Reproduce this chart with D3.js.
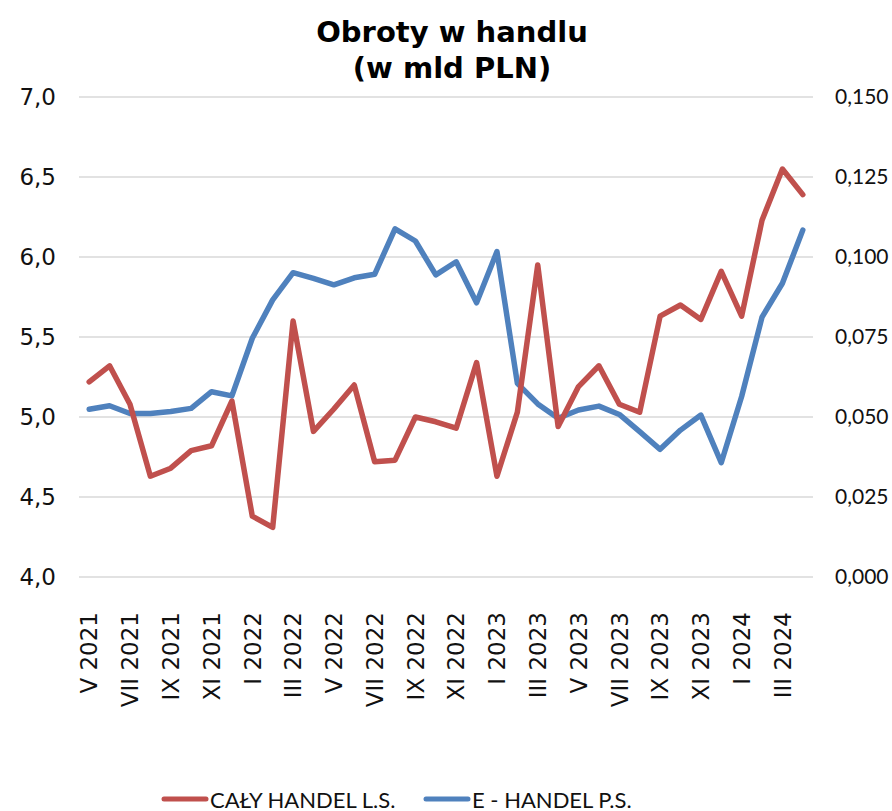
<!doctype html>
<html>
<head>
<meta charset="utf-8">
<script src="https://d3js.org/d3.v7.min.js"></script>
<style>
  body { margin: 0; background: #fff; }
  svg { display: block; }
</style>
</head>
<body>
<div id="chart"></div>
<script>
// months May 2021 .. April 2024
var months = ["V 2021","VI 2021","VII 2021","VIII 2021","IX 2021","X 2021","XI 2021","XII 2021",
  "I 2022","II 2022","III 2022","IV 2022","V 2022","VI 2022","VII 2022","VIII 2022","IX 2022","X 2022","XI 2022","XII 2022",
  "I 2023","II 2023","III 2023","IV 2023","V 2023","VI 2023","VII 2023","VIII 2023","IX 2023","X 2023","XI 2023","XII 2023",
  "I 2024","II 2024","III 2024","IV 2024"];

// CAŁY HANDEL (left axis, mld PLN)
var calyHandel = [5.22, 5.32, 5.08, 4.63, 4.68, 4.79, 4.82, 5.10, 4.38, 4.31,
  5.60, 4.91, 5.05, 5.20, 4.72, 4.73, 5.00, 4.97, 4.93, 5.34,
  4.63, 5.03, 5.95, 4.94, 5.19, 5.32, 5.08, 5.03, 5.63, 5.70,
  5.61, 5.91, 5.63, 6.23, 6.55, 6.39];

// E-HANDEL (right axis, mld PLN)
var eHandel = [0.0524, 0.0535, 0.0511, 0.0511, 0.0517, 0.0527, 0.0579, 0.0566, 0.0746, 0.0866,
  0.0951, 0.0933, 0.0913, 0.0935, 0.0946, 0.1088, 0.1050, 0.0944, 0.0985, 0.0857,
  0.1017, 0.0605, 0.0541, 0.0496, 0.0522, 0.0534, 0.0508, 0.0454, 0.0399, 0.0459,
  0.0506, 0.0357, 0.0564, 0.0812, 0.0918, 0.1084];

var leftTicks = [4.0, 4.5, 5.0, 5.5, 6.0, 6.5, 7.0];
var rightTicks = [0, 0.025, 0.05, 0.075, 0.1, 0.125, 0.15];

var W = 892, H = 811;
var plotL = 79, plotR = 813, plotT = 97, plotB = 577;
var red = "#C0504D", blue = "#4F81BD";

var svg = d3.select("#chart").append("svg").attr("width", W).attr("height", H);

var x = d3.scalePoint().domain(d3.range(months.length)).range([plotL, plotR]).padding(0.5);
var yL = d3.scaleLinear().domain([4, 7]).range([plotB, plotT]);
var yR = d3.scaleLinear().domain([0, 0.15]).range([plotB, plotT]);
var fmtL = function(d) { return d3.format(".1f")(d).replace(".", ","); };
var fmtR = function(d) { return d3.format(".3f")(d).replace(".", ","); };

// grid
svg.append("g").selectAll("line").data(leftTicks).enter().append("line")
  .attr("x1", plotL).attr("x2", plotR)
  .attr("y1", function(d) { return yL(d); }).attr("y2", function(d) { return yL(d); })
  .attr("stroke", "#d9d9d9").attr("stroke-width", 1.5);

// left axis
var axL = svg.append("g").attr("transform", "translate(" + (plotL - 23) + ",0)")
  .call(d3.axisLeft(yL).tickValues(leftTicks).tickFormat(fmtL).tickSize(0).tickPadding(0));
axL.select(".domain").remove();
axL.selectAll("text").attr("font-family", "DejaVu Sans, Verdana, sans-serif").attr("font-size", 23).attr("fill", "#111");

// right axis
var axR = svg.append("g").attr("transform", "translate(" + (plotR + 22) + ",0)")
  .call(d3.axisRight(yR).tickValues(rightTicks).tickFormat(fmtR).tickSize(0).tickPadding(0));
axR.select(".domain").remove();
axR.selectAll("text").attr("font-family", "Lato, Calibri, sans-serif").attr("font-size", 21).attr("fill", "#111");

// x labels every other month
svg.append("g").selectAll("text").data(d3.range(0, months.length, 2)).enter().append("text")
  .attr("transform", function(i) { return "translate(" + x(i) + ",612) rotate(-90)"; })
  .attr("text-anchor", "end").attr("dy", "0.36em")
  .attr("font-family", "DejaVu Sans, Verdana, sans-serif").attr("font-size", 23).attr("fill", "#111")
  .text(function(i) { return months[i]; });

// lines
var lineL = d3.line().x(function(d, i) { return x(i); }).y(function(d) { return yL(d); });
var lineR = d3.line().x(function(d, i) { return x(i); }).y(function(d) { return yR(d); });

svg.append("path").datum(eHandel).attr("d", lineR)
  .attr("fill", "none").attr("stroke", blue).attr("stroke-width", 5.5)
  .attr("stroke-linejoin", "round").attr("stroke-linecap", "round");
svg.append("path").datum(calyHandel).attr("d", lineL)
  .attr("fill", "none").attr("stroke", red).attr("stroke-width", 5.5)
  .attr("stroke-linejoin", "round").attr("stroke-linecap", "round");

// title
var title = svg.append("text").attr("x", 452).attr("text-anchor", "middle")
  .attr("font-family", "DejaVu Sans, Verdana, sans-serif").attr("font-weight", "bold").attr("font-size", 29).attr("fill", "#000");
title.append("tspan").attr("x", 452).attr("y", 42).text("Obroty w handlu");
title.append("tspan").attr("x", 452).attr("y", 78).text("(w mld PLN)");

// legend
var legend = [{name: "CAŁY HANDEL L.S.", color: red, x: 164}, {name: "E - HANDEL P.S.", color: blue, x: 426}];
var lg = svg.append("g").selectAll("g").data(legend).enter().append("g");
lg.append("line").attr("x1", function(d) { return d.x; }).attr("x2", function(d) { return d.x + 42; })
  .attr("y1", 799).attr("y2", 799).attr("stroke", function(d) { return d.color; })
  .attr("stroke-width", 5).attr("stroke-linecap", "round");
lg.append("text").attr("x", function(d) { return d.x + 46; }).attr("y", 808)
  .attr("font-family", "Lato, Calibri, sans-serif").attr("font-size", 22).attr("fill", "#111")
  .text(function(d) { return d.name; });
</script>
</body>
</html>
